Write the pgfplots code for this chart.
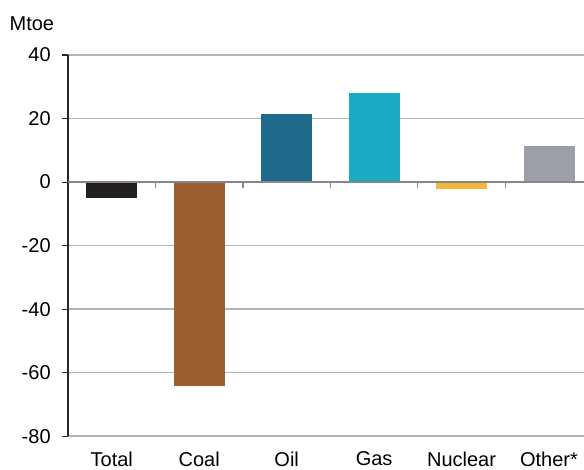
\documentclass[border=0pt]{standalone}
\usepackage{fontspec}
\setmainfont{Liberation Sans}
\usepackage{pgfplots}
\pgfplotsset{compat=1.18}

\definecolor{cTotal}{HTML}{231F20}
\definecolor{cCoal}{HTML}{9C5F32}
\definecolor{cOil}{HTML}{1F6A8A}
\definecolor{cGas}{HTML}{1BAAC4}
\definecolor{cNuc}{HTML}{F2B838}
\definecolor{cOther}{HTML}{9C9FA6}
\definecolor{gridc}{HTML}{B4B4B8}
\definecolor{zeroc}{HTML}{85868A}

\begin{document}
\begin{tikzpicture}[x=1pt,y=1pt]
\begin{axis}[
  name=ax,
  scale only axis,
  width=386.8pt, height=285.75pt,
  xmin=-0.5, xmax=5.4,
  ymin=-80, ymax=40,
  ytick={-80,-60,-40,-20,0,20,40},
  yticklabels={-80,-60,-40,-20,0,20,40},
  xtick={0,1,2,3,4,5},
  xticklabels={Total,Coal,Oil,Gas,Nuclear,Other*},
  axis y line*=left,
  axis x line*=bottom,
  x axis line style={draw=gridc, line width=1.1pt, -},
  y axis line style={draw=black!85, line width=1.1pt, -},
  ymajorgrids,
  grid style={draw=gridc, line width=1.1pt},
  tick align=outside,
  x tick style={draw=none},
  y tick style={draw=black!85, line width=0.8pt},
  major tick length=4.5pt,
  tick label style={font=\fontsize{15}{18}\selectfont},
  /pgf/number format/assume math mode=true,
  yticklabel style={anchor=east, xshift=-5pt},
  xticklabel style={anchor=north, yshift=-3.6pt},
  ybar, bar width=38.25pt, bar shift=0pt,
  clip=false,
]
\addplot[fill=cTotal, draw=none] coordinates {(0,-4.9)};
\addplot[fill=cCoal, draw=none] coordinates {(1,-64.1)};
\addplot[fill=cOil, draw=none] coordinates {(2,21.4)};
\addplot[fill=cGas, draw=none] coordinates {(3,28.1)};
\addplot[fill=cNuc, draw=none] coordinates {(4,-2.2)};
\addplot[fill=cOther, draw=none] coordinates {(5,11.3)};
% zero line with category separators
\draw[zeroc, line width=1.5pt] (axis cs:-0.5,0) -- (axis cs:5.4,0);
\pgfplotsinvokeforeach{0.5,1.5,2.5,3.5,4.5}{
  \draw[zeroc, line width=0.9pt] (axis cs:#1,0) -- ++(0pt,-4.5pt);
}
\node[anchor=base west, font=\fontsize{15}{18}\selectfont, inner sep=0pt]
  at (rel axis cs:0,1) [xshift=-44pt, yshift=18.75pt] {Mtoe};
\end{axis}
\pgfresetboundingbox
\path ([shift={(-51pt,-24.75pt)}]ax.south west) rectangle ([shift={(0pt,41.25pt)}]ax.north east);
\end{tikzpicture}
\end{document}
